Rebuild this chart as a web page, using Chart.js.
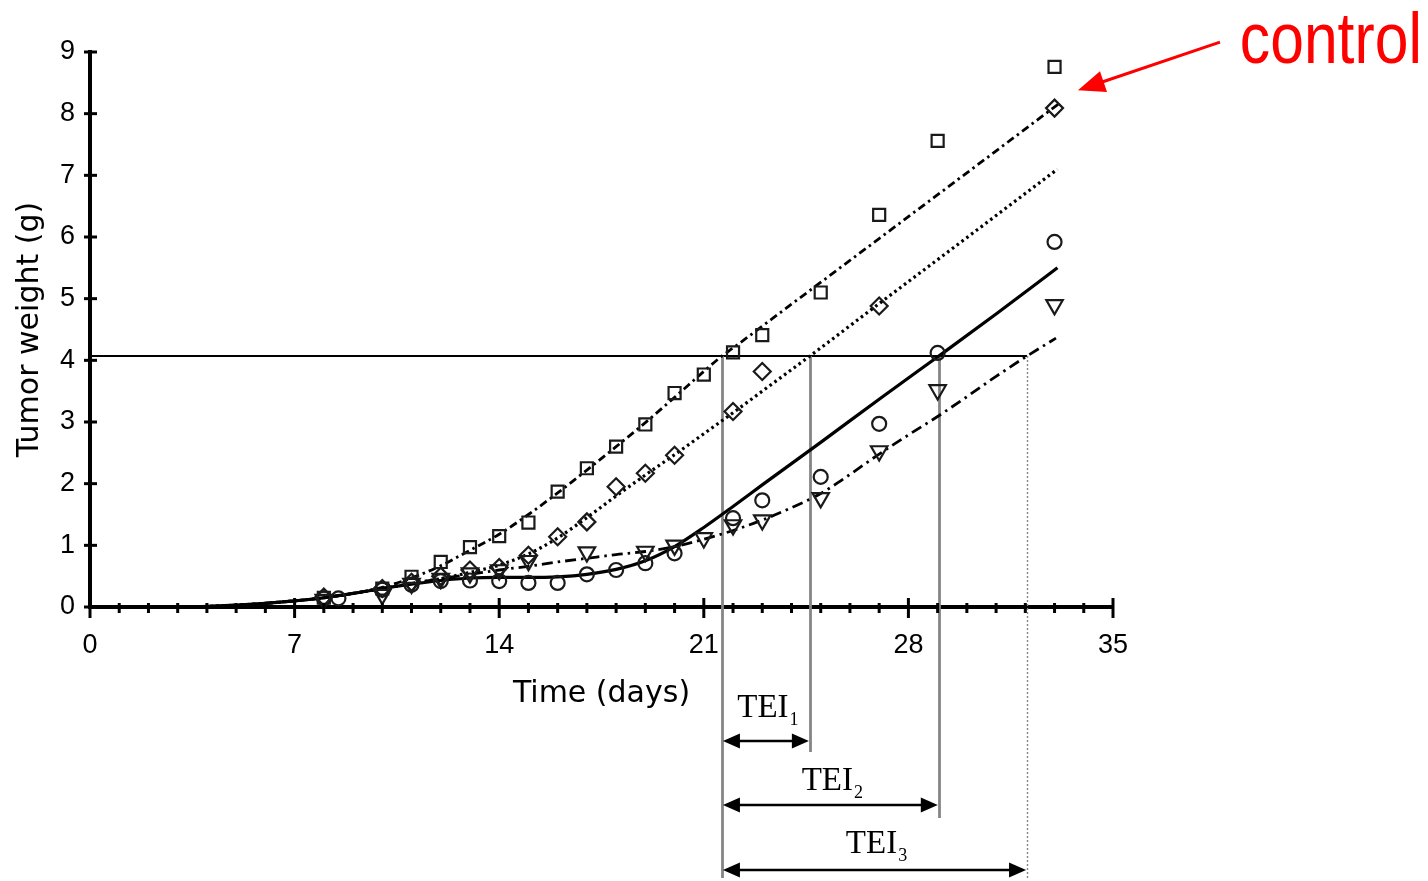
<!DOCTYPE html>
<html>
<head>
<meta charset="utf-8">
<script src="https://cdn.jsdelivr.net/npm/chart.js@4.4.1/dist/chart.umd.min.js"></script>
<style>
  html, body { margin: 0; padding: 0; background: #fff; }
  canvas { display: block; }
</style>
</head>
<body>
<canvas id="chart" width="1428" height="881"></canvas>
<script>
// Axis ticks
const xTicks = [0, 7, 14, 21, 28, 35];
const yTicks = [0, 1, 2, 3, 4, 5, 6, 7, 8, 9];

// Measured tumor weights (g) per group
const controlDays    = [8, 10, 11, 12, 13, 14, 15, 16, 17, 18, 19, 20, 21, 22, 23, 25, 27, 29, 33];
const controlWeights = [0.15, 0.3, 0.49, 0.73, 0.97, 1.15, 1.37, 1.87, 2.25, 2.6, 2.96, 3.47, 3.77, 4.13, 4.41, 5.1, 6.36, 7.56, 8.76];

const group1Days    = [8, 10, 11, 12, 13, 14, 15, 16, 17, 18, 19, 20, 22, 23, 27, 33];
const group1Weights = [0.16, 0.3, 0.4, 0.5, 0.6, 0.64, 0.84, 1.14, 1.38, 1.95, 2.17, 2.46, 3.17, 3.82, 4.88, 8.09];

const group2Days    = [8, 8.5, 10, 11, 12, 13, 14, 15, 16, 17, 18, 19, 20, 22, 23, 25, 27, 29, 33];
const group2Weights = [0.14, 0.14, 0.28, 0.36, 0.42, 0.43, 0.42, 0.39, 0.39, 0.53, 0.6, 0.71, 0.87, 1.44, 1.73, 2.11, 2.97, 4.12, 5.92];

const group3Days    = [8, 10, 11, 12, 13, 14, 15, 17, 19, 20, 21, 22, 23, 25, 27, 29, 33];
const group3Weights = [0.12, 0.2, 0.38, 0.46, 0.55, 0.6, 0.75, 0.89, 0.9, 1.0, 1.12, 1.33, 1.41, 1.77, 2.53, 3.52, 4.9];

// Model fits for each group
const controlFitDays = [3.5, 5, 6, 7, 8, 9, 10, 11, 12, 13, 14, 15, 16, 17, 18, 19, 20, 21, 21.62, 22, 24, 26, 28, 30, 33.2];
const controlFit     = [0, 0.03, 0.06, 0.1, 0.15, 0.22, 0.32, 0.47, 0.67, 0.92, 1.18, 1.5, 1.85, 2.22, 2.6, 2.99, 3.4, 3.82, 4.07, 4.2, 4.91, 5.62, 6.33, 7.04, 8.18];

const group1FitDays = [3.5, 5, 6, 7, 8, 9, 10, 11, 12, 13, 14, 15, 16, 17, 18, 19, 20, 21, 22, 23, 24.63, 27, 30, 33.1];
const group1Fit     = [0, 0.03, 0.06, 0.1, 0.15, 0.22, 0.3, 0.38, 0.46, 0.56, 0.68, 0.86, 1.12, 1.45, 1.8, 2.14, 2.47, 2.81, 3.15, 3.5, 4.07, 4.92, 5.99, 7.1];

const group2FitDays = [3.5, 5, 6, 7, 8, 9, 10, 11, 12, 13, 14, 15, 16, 17, 18, 19, 20, 21, 22, 23, 25, 27, 29.04, 31, 33.1];
const group2Fit     = [0, 0.03, 0.06, 0.1, 0.15, 0.22, 0.3, 0.37, 0.43, 0.47, 0.48, 0.48, 0.49, 0.53, 0.61, 0.75, 0.98, 1.29, 1.63, 1.98, 2.67, 3.37, 4.07, 4.75, 5.5];

const group3FitDays = [3.5, 5, 6, 7, 8, 9, 10, 11, 12, 13, 14, 15, 16, 17, 18, 19, 20, 21, 22, 23, 24, 25, 26, 27, 28, 29, 30, 31, 32.06, 33.05];
const group3Fit     = [0, 0.03, 0.06, 0.1, 0.15, 0.22, 0.3, 0.38, 0.46, 0.53, 0.6, 0.66, 0.73, 0.79, 0.85, 0.9, 0.98, 1.1, 1.24, 1.41, 1.61, 1.84, 2.15, 2.48, 2.79, 3.09, 3.41, 3.74, 4.07, 4.36];

// Endpoint weight and the day each fit reaches it
const threshold = 4.07;
const teiDays = [21.62, 24.63, 29.04, 32.06];
const teiNames = ['1', '2', '3'];

const pts = (xs, ys) => xs.map((x, i) => ({ x, y: ys[i] }));

const markerBase = {
  showLine: false,
  borderColor: '#1a1a1a',
  backgroundColor: 'rgba(255,255,255,0)',
  borderWidth: 2.2,
  clip: false
};
const fitBase = {
  showLine: true,
  pointRadius: 0,
  borderColor: '#000',
  fill: false,
  cubicInterpolationMode: 'monotone',
  clip: false
};

const datasets = [
  { ...markerBase, label: 'control', data: pts(controlDays, controlWeights), pointStyle: 'rect', pointRadius: 8.5 },
  { ...markerBase, label: 'group 1', data: pts(group1Days, group1Weights), pointStyle: 'rectRot', pointRadius: 8.5 },
  { ...markerBase, label: 'group 2', data: pts(group2Days, group2Weights), pointStyle: 'circle', pointRadius: 7 },
  { ...markerBase, label: 'group 3', data: pts(group3Days, group3Weights), pointStyle: 'triangle', pointRotation: 180, pointRadius: 9.5 },
  { ...fitBase, label: 'control fit', data: pts(controlFitDays, controlFit), borderWidth: 2.8, borderDash: [8, 4, 2.5, 4] },
  { ...fitBase, label: 'group 1 fit', data: pts(group1FitDays, group1Fit), borderWidth: 3.2, borderDash: [2.6, 3.4] },
  { ...fitBase, label: 'group 2 fit', data: pts(group2FitDays, group2Fit), borderWidth: 3.2 },
  { ...fitBase, label: 'group 3 fit', data: pts(group3FitDays, group3Fit), borderWidth: 2.8, borderDash: [11, 5, 2.5, 5] }
];

function arrowHead(ctx, tipX, tipY, dirX, dirY, len, half) {
  const n = Math.hypot(dirX, dirY);
  const ux = dirX / n, uy = dirY / n;
  const bx = tipX - ux * len, by = tipY - uy * len;
  ctx.beginPath();
  ctx.moveTo(tipX, tipY);
  ctx.lineTo(bx - uy * half, by + ux * half);
  ctx.lineTo(bx + uy * half, by - ux * half);
  ctx.closePath();
  ctx.fill();
}

const annotations = {
  id: 'annotations',
  beforeDraw(chart) {
    const ctx = chart.ctx;
    ctx.save();
    ctx.fillStyle = '#fff';
    ctx.fillRect(0, 0, chart.width, chart.height);
    ctx.restore();
  },
  beforeDatasetsDraw(chart) {
    const { ctx, scales: { x, y } } = chart;
    const yT = y.getPixelForValue(threshold);
    ctx.save();
    // endpoint line
    ctx.strokeStyle = '#000';
    ctx.lineWidth = 1.8;
    ctx.beginPath();
    ctx.moveTo(x.getPixelForValue(0), yT);
    ctx.lineTo(x.getPixelForValue(teiDays[3]), yT);
    ctx.stroke();
    // drop lines from each crossing
    const bottoms = [878, 752, 818, 878];
    teiDays.forEach((d, i) => {
      const px = Math.round(x.getPixelForValue(d)) + 0.5;
      ctx.strokeStyle = '#858585';
      ctx.lineWidth = i === 3 ? 1.4 : 2.8;
      ctx.setLineDash(i === 3 ? [2, 2] : []);
      ctx.beginPath();
      ctx.moveTo(px, yT);
      ctx.lineTo(px, bottoms[i]);
      ctx.stroke();
    });
    ctx.restore();
  },
  afterDraw(chart) {
    const { ctx, scales: { x, y } } = chart;
    ctx.save();
    ctx.strokeStyle = '#000';
    ctx.lineWidth = 3;
    // y tick marks
    const ax = x.getPixelForValue(0);
    yTicks.forEach(v => {
      const py = y.getPixelForValue(v);
      ctx.beginPath();
      ctx.moveTo(ax - 6, py);
      ctx.lineTo(ax + 7, py);
      ctx.stroke();
    });
    // x tick marks: one per day, longer every week
    const ay = y.getPixelForValue(0);
    for (let d = 0; d <= 35; d++) {
      const px = x.getPixelForValue(d);
      const major = d % 7 === 0;
      ctx.beginPath();
      ctx.moveTo(px, major ? ay - 9 : ay - 4);
      ctx.lineTo(px, major ? ay + 11 : ay + 6);
      ctx.stroke();
    }

    // TEI brackets
    const start = x.getPixelForValue(teiDays[0]);
    const arrowY = [741, 805, 870];
    const labelY = [717, 790, 853];
    ctx.fillStyle = '#000';
    ctx.lineWidth = 2.4;
    teiNames.forEach((n, i) => {
      const end = x.getPixelForValue(teiDays[i + 1]);
      const yy = arrowY[i];
      ctx.beginPath();
      ctx.moveTo(start + 8, yy);
      ctx.lineTo(end - 8, yy);
      ctx.stroke();
      arrowHead(ctx, start + 1, yy, -1, 0, 17, 7.5);
      arrowHead(ctx, end - 1, yy, 1, 0, 17, 7.5);
      // label: TEI with subscript
      ctx.font = '33px "Liberation Serif", "Times New Roman", serif';
      const w1 = ctx.measureText('TEI').width;
      ctx.font = '18px "Liberation Serif", "Times New Roman", serif';
      const w2 = ctx.measureText(n).width;
      const cx = (start + end) / 2 + 2;
      const lx = cx - (w1 + w2 + 1) / 2;
      ctx.textBaseline = 'alphabetic';
      ctx.textAlign = 'left';
      ctx.font = '33px "Liberation Serif", "Times New Roman", serif';
      ctx.fillText('TEI', lx, labelY[i]);
      ctx.font = '18px "Liberation Serif", "Times New Roman", serif';
      ctx.fillText(n, lx + w1 + 1, labelY[i] + 8);
    });

    // control callout
    const tipX = x.getPixelForValue(33.8), tipY = y.getPixelForValue(8.38);
    const tailX = x.getPixelForValue(38.66), tailY = y.getPixelForValue(9.16);
    ctx.strokeStyle = '#ff0000';
    ctx.fillStyle = '#ff0000';
    ctx.lineWidth = 3;
    ctx.setLineDash([]);
    ctx.beginPath();
    ctx.moveTo(tailX, tailY);
    ctx.lineTo(tipX + (tailX - tipX) * 0.15, tipY + (tailY - tipY) * 0.15);
    ctx.stroke();
    arrowHead(ctx, tipX, tipY, tipX - tailX, tipY - tailY, 27, 11);

    ctx.font = '72px "Liberation Sans Narrow", "Arial Narrow", "Liberation Sans", sans-serif';
    const tw = ctx.measureText('control').width;
    const target = 182;
    const tx = x.getPixelForValue(39.34);
    ctx.translate(tx, 63);
    ctx.scale(target / tw, 1);
    ctx.textAlign = 'left';
    ctx.textBaseline = 'alphabetic';
    ctx.fillText('control', 0, 0);
    ctx.restore();
  }
};

new Chart(document.getElementById('chart'), {
  type: 'scatter',
  data: { datasets },
  options: {
    responsive: false,
    animation: false,
    devicePixelRatio: 1,
    layout: { padding: { left: 0, top: 52, right: 315, bottom: 169 } },
    plugins: { legend: { display: false }, tooltip: { enabled: false } },
    scales: {
      x: {
        type: 'linear',
        min: 0,
        max: 35,
        afterBuildTicks: s => { s.ticks = xTicks.map(v => ({ value: v })); },
        afterFit: s => { s.height = 105; },
        grid: { display: false, drawTicks: false },
        border: { display: true, color: '#000', width: 4 },
        ticks: {
          padding: 22,
          color: '#000',
          font: { family: '"Liberation Sans", Arial, sans-serif', size: 27 },
          maxRotation: 0,
          autoSkip: false
        },
        title: {
          display: true,
          text: 'Time (days)',
          color: '#000',
          font: { family: '"DejaVu Sans", sans-serif', size: 30 },
          padding: { top: 0, bottom: 0 }
        }
      },
      y: {
        type: 'linear',
        min: 0,
        max: 9,
        afterBuildTicks: s => { s.ticks = yTicks.map(v => ({ value: v })); },
        afterFit: s => { s.width = 90; },
        grid: { display: false, drawTicks: false },
        border: { display: true, color: '#000', width: 4 },
        ticks: {
          padding: 15,
          color: '#000',
          font: { family: '"Liberation Sans", Arial, sans-serif', size: 27 }
        },
        title: {
          display: true,
          text: 'Tumor weight (g)',
          color: '#000',
          font: { family: '"DejaVu Sans", sans-serif', size: 30 },
          padding: { top: 12, bottom: 0 }
        }
      }
    }
  },
  plugins: [annotations]
});
</script>
</body>
</html>
